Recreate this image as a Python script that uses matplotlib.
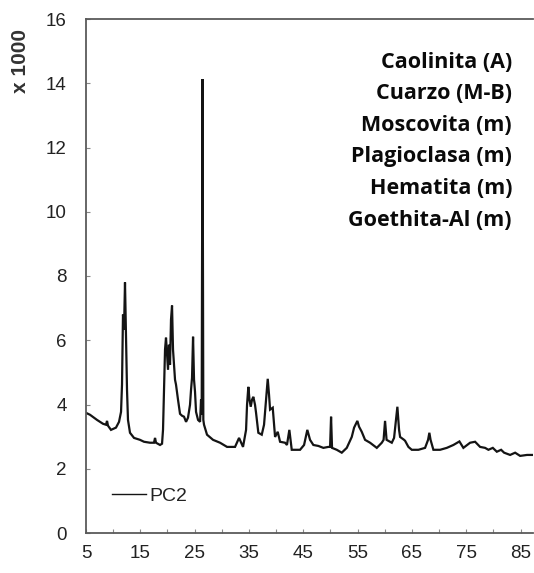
import matplotlib
matplotlib.use("Agg")
import matplotlib.pyplot as plt

# Diffractogram of sample PC2: 2-theta (degrees) vs intensity (counts x 1000)
two_theta = [
    5.0, 5.74, 7.03, 8.13, 8.68, 8.87, 9.05, 9.60, 10.52, 11.08, 11.45, 11.63,
    11.81, 12.0, 12.18, 12.37, 12.55, 12.73, 13.10, 13.84, 14.94, 15.68, 16.79,
    17.52, 17.71, 17.89, 18.63, 19.0, 19.18, 19.36, 19.55, 19.73, 19.92, 20.1,
    20.28, 20.47, 20.65, 20.84, 21.02, 21.2, 21.39, 21.57, 21.94, 22.31, 22.68,
    23.05, 23.42, 23.78, 24.15, 24.34, 24.52, 24.71, 24.89, 25.07, 25.26, 25.63,
    26.0, 26.18, 26.3, 26.45, 26.6, 26.73, 27.28, 28.39, 29.68, 30.97, 32.44,
    33.18, 33.91, 34.47, 34.65, 34.89, 35.1, 35.33, 35.57, 35.81, 36.12, 36.31,
    36.73, 37.36, 37.78, 38.15, 38.46, 38.70, 38.89, 39.38, 39.62, 39.81, 40.30,
    40.73, 41.65, 42.0, 42.44, 42.88, 44.41, 45.15, 45.75, 46.25, 46.86, 47.78,
    48.70, 49.62, 49.94, 50.12, 50.30, 51.17, 52.09, 53.01, 53.93, 54.36, 54.96,
    55.27, 55.77, 56.38, 57.30, 58.54, 59.46, 59.79, 60.06, 60.34, 61.30, 61.72,
    62.33, 62.64, 62.83, 63.56, 63.75, 64.36, 64.98, 66.20, 67.43, 67.98, 68.22,
    68.44, 68.96, 70.19, 71.43, 72.64, 73.75, 74.48, 75.72, 76.64, 77.56, 78.48,
    79.09, 79.90, 80.64, 81.43, 81.98, 83.09, 84.01, 84.93, 86.2, 87.3,
]
intensity = [
    3.74, 3.68, 3.52, 3.40, 3.37, 3.49, 3.34, 3.21, 3.28, 3.46, 3.77, 4.62,
    6.80, 6.33, 7.80, 6.02, 4.46, 3.52, 3.12, 2.96, 2.90, 2.84, 2.81,
    2.81, 2.96, 2.81, 2.74, 2.78, 3.21, 4.46, 5.71, 6.08, 5.55, 5.08,
    5.86, 5.24, 6.64, 7.08, 5.71, 5.24, 4.77, 4.62, 4.15, 3.71, 3.65,
    3.62, 3.46, 3.59, 3.99, 4.46, 4.83, 6.11, 4.77, 4.40, 3.77, 3.52,
    3.46, 4.15, 3.68, 14.13, 3.52, 3.37, 3.06, 2.90, 2.81, 2.68, 2.68,
    2.96, 2.68, 3.21, 3.99, 4.55, 4.15, 3.93, 4.15, 4.24, 3.99, 3.74,
    3.12, 3.06, 3.37, 4.15, 4.80, 4.30, 3.84, 3.90, 3.37, 2.99, 3.15,
    2.84, 2.81, 2.74, 3.21, 2.59, 2.59, 2.74, 3.21, 2.90, 2.74, 2.71,
    2.65, 2.68, 2.68, 3.62, 2.65, 2.59, 2.50, 2.65, 2.99, 3.28, 3.49,
    3.31, 3.15, 2.90, 2.81, 2.65, 2.81, 2.90, 3.49, 2.90, 2.81, 2.96,
    3.93, 3.21, 2.99, 2.90, 2.87, 2.68, 2.59, 2.59, 2.65, 2.90, 3.12,
    2.90, 2.59, 2.59, 2.65, 2.74, 2.85, 2.65, 2.81, 2.84, 2.68, 2.65,
    2.59, 2.65, 2.53, 2.59, 2.50, 2.43, 2.50, 2.40, 2.43, 2.43,
]

x_ticks = [5, 15, 25, 35, 45, 55, 65, 75, 85]
y_ticks = [0, 2, 4, 6, 8, 10, 12, 14, 16]
phases = ["Caolinita (A)", "Cuarzo (M-B)", "Moscovita (m)",
          "Plagioclasa (m)", "Hematita (m)", "Goethita-Al (m)"]

W, H = 534, 573
fig = plt.figure(figsize=(W / 100, H / 100), dpi=100)
ax = fig.add_axes([86 / W, 1 - 533 / H, (533 - 86) / W, (533 - 19) / H])

line, = ax.plot(two_theta, intensity, color="#141414", lw=1.6, label="PC2",
                solid_joinstyle="miter")

ax.set_xlim(5, 87.3)
ax.set_ylim(0, 16)
ax.set_xticks(x_ticks)
ax.set_xticks(range(10, 88, 10), minor=True)
ax.set_yticks(y_ticks)

spine_col = "#5a5a5a"
for side in ("left", "bottom", "top"):
    ax.spines[side].set_color(spine_col)
    ax.spines[side].set_linewidth(1.3)
ax.spines["right"].set_visible(False)

tick_font = dict(family=["Liberation Sans", "DejaVu Sans"], size=13.5)
ax.tick_params(axis="both", which="both", direction="in", length=3,
               width=0.8, color="#888888", labelcolor="#222222")
ax.tick_params(axis="x", pad=9)
ax.tick_params(axis="y", pad=14)
for lab in ax.get_xticklabels() + ax.get_yticklabels():
    lab.set_fontfamily(tick_font["family"])
    lab.set_fontsize(tick_font["size"])

fig.text(21 / W, 1 - 61 / H, "x 1000", rotation=90, ha="center", va="center",
         fontsize=15, fontweight="bold", color="#333333",
         family=["Liberation Sans", "DejaVu Sans"])

# Mineral phases identified, right-aligned block
for i, name in enumerate(phases):
    py = 62 + i * 31.6
    ax.text((512 - 86) / (533 - 86), (533 - py) / (533 - 19), name,
            transform=ax.transAxes, ha="right", va="center",
            fontsize=15.5, fontweight="bold", color="#0a0a0a",
            family=["Open Sans", "DejaVu Sans"])

leg = ax.legend(loc="center left", bbox_to_anchor=((112 - 86) / 447, (533 - 496) / 514),
                frameon=False, handlelength=1.75, handletextpad=0.15,
                borderpad=0, borderaxespad=0,
                prop={"family": ["Liberation Sans", "DejaVu Sans"], "size": 14})
for h in leg.get_lines():
    h.set_linewidth(1.0)
for t in leg.get_texts():
    t.set_color("#222222")

fig.savefig("out.png", dpi=100)
